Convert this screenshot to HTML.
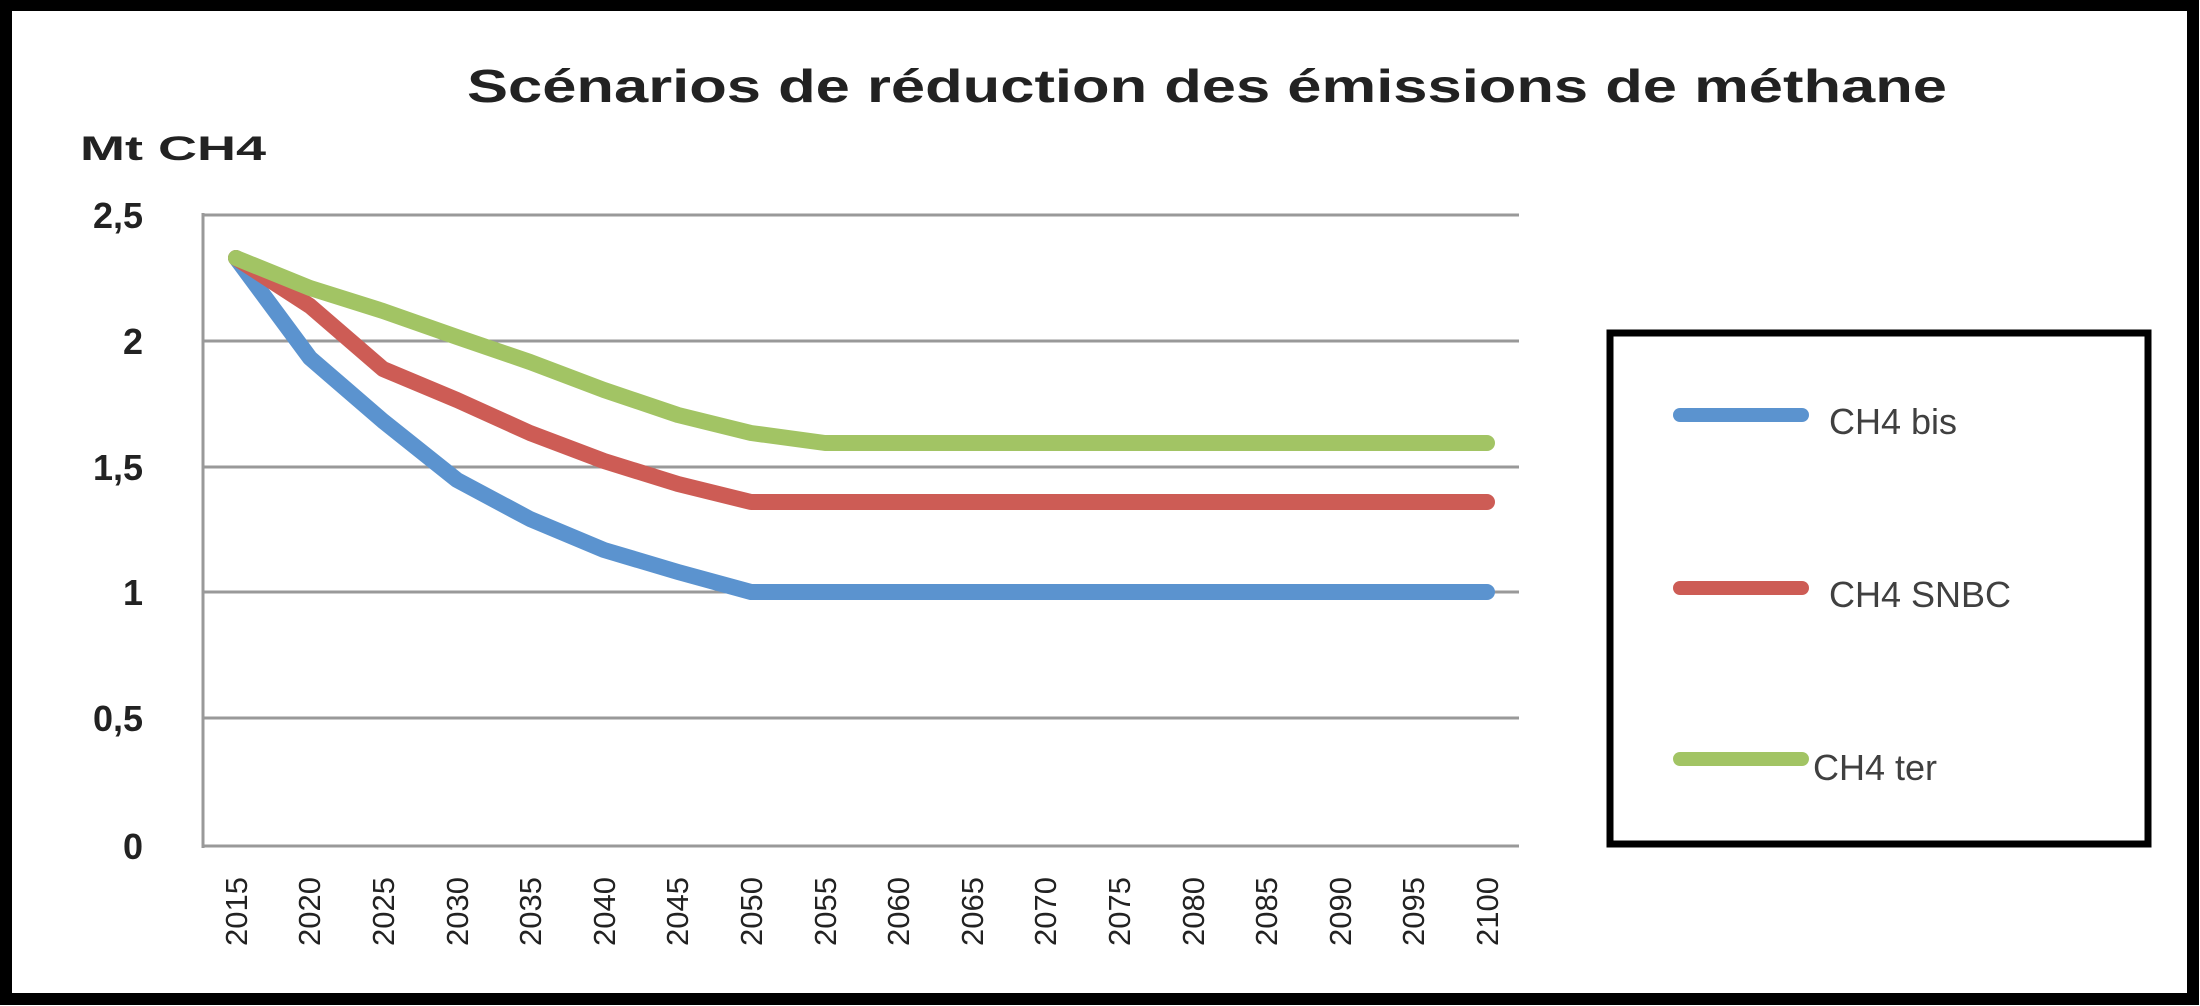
<!DOCTYPE html>
<html><head><meta charset="utf-8"><style>html,body{margin:0;padding:0;background:#fff}svg{display:block}</style></head>
<body>
<svg width="2200" height="1006" viewBox="0 0 2200 1006" xmlns="http://www.w3.org/2000/svg" font-family="'Liberation Sans', 'DejaVu Sans', sans-serif">
<rect x="0" y="0" width="2200" height="1006" fill="#fff"/>
<rect x="6" y="5" width="2187" height="994" fill="none" stroke="#000" stroke-width="12"/>
<text x="1207" y="102" text-anchor="middle" font-size="46" font-weight="bold" fill="#222" textLength="1480" lengthAdjust="spacingAndGlyphs">Scénarios de réduction des émissions de méthane</text>
<text x="80" y="160" font-size="34" font-weight="bold" fill="#222" textLength="186" lengthAdjust="spacingAndGlyphs">Mt CH4</text>
<g stroke="#999" stroke-width="3">
<line x1="203" y1="215" x2="1519" y2="215"/>
<line x1="203" y1="341" x2="1519" y2="341"/>
<line x1="203" y1="467" x2="1519" y2="467"/>
<line x1="203" y1="592" x2="1519" y2="592"/>
<line x1="203" y1="718" x2="1519" y2="718"/>
<line x1="203" y1="846" x2="1519" y2="846"/>
<line x1="203" y1="213" x2="203" y2="848"/>
</g>
<g font-size="36" font-weight="bold" fill="#222" text-anchor="end">
<text x="143" y="228">2,5</text><text x="143" y="354">2</text><text x="143" y="480">1,5</text>
<text x="143" y="605">1</text><text x="143" y="731">0,5</text><text x="143" y="859">0</text>
</g>
<g font-size="31" fill="#222" text-anchor="end">
<text transform="translate(247,877) rotate(-90)">2015</text>
<text transform="translate(320,877) rotate(-90)">2020</text>
<text transform="translate(394,877) rotate(-90)">2025</text>
<text transform="translate(468,877) rotate(-90)">2030</text>
<text transform="translate(541,877) rotate(-90)">2035</text>
<text transform="translate(615,877) rotate(-90)">2040</text>
<text transform="translate(688,877) rotate(-90)">2045</text>
<text transform="translate(762,877) rotate(-90)">2050</text>
<text transform="translate(836,877) rotate(-90)">2055</text>
<text transform="translate(909,877) rotate(-90)">2060</text>
<text transform="translate(983,877) rotate(-90)">2065</text>
<text transform="translate(1056,877) rotate(-90)">2070</text>
<text transform="translate(1130,877) rotate(-90)">2075</text>
<text transform="translate(1204,877) rotate(-90)">2080</text>
<text transform="translate(1277,877) rotate(-90)">2085</text>
<text transform="translate(1351,877) rotate(-90)">2090</text>
<text transform="translate(1424,877) rotate(-90)">2095</text>
<text transform="translate(1498,877) rotate(-90)">2100</text>
</g>
<g fill="none" stroke-width="16" stroke-linecap="round" stroke-linejoin="round">
<polyline stroke="#5b93cf" points="236,258 310,358 383,421 457,480 530,519 604,550 678,572 751,592 1487,592"/>
<polyline stroke="#cd5c55" points="236,258 310,306 383,369 457,400 530,433 604,461 678,484 751,502 1487,502"/>
<polyline stroke="#a2c464" points="236,258 310,288 383,311 457,337 530,362 604,390 678,415 751,433 825,443 1487,443"/>
</g>
<rect x="1610" y="333" width="538" height="511" fill="none" stroke="#000" stroke-width="7"/>
<g stroke-width="14" stroke-linecap="round">
<line x1="1680" y1="415" x2="1802" y2="415" stroke="#5b93cf"/>
<line x1="1680" y1="588" x2="1802" y2="588" stroke="#cd5c55"/>
<line x1="1680" y1="759" x2="1802" y2="759" stroke="#a2c464"/>
</g>
<g font-size="36" fill="#404040">
<text x="1829" y="434">CH4 bis</text>
<text x="1829" y="607">CH4 SNBC</text>
<text x="1813" y="780">CH4 ter</text>
</g>
</svg>
</body></html>
